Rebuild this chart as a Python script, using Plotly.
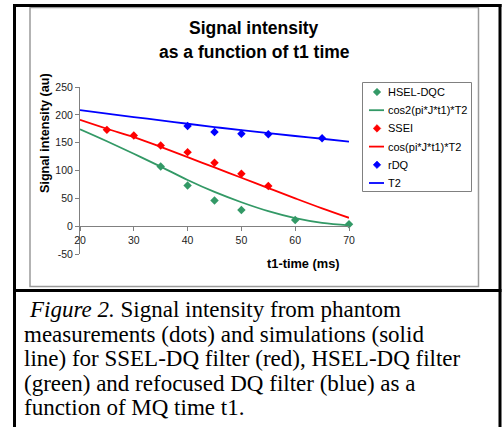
import plotly.graph_objects as go

# ---------------- data ----------------
t_meas_hsel = [35, 40, 45, 50, 60, 70]
hsel_meas = [107, 73, 46, 29, 11, 3.5]

t_meas_ssel = [25, 30, 35, 40, 45, 50, 55]
ssel_meas = [173, 163, 145, 133, 114, 94, 72]

t_meas_rdq = [40, 45, 50, 55, 65]
rdq_meas = [180, 169, 166, 165, 158]

t_sim = [20, 25, 30, 35, 40, 45, 50, 55, 60, 65, 70]
cos2_sim = [174, 152.5, 130, 107, 83, 61.5, 43, 27, 14.5, 6, 1.5]
cos_sim = [191, 175, 160, 142.5, 124, 105.5, 87, 68.5, 50, 32, 15]
t2_sim = [208.5, 202, 196, 190, 184, 178, 172.5, 167, 162, 157, 152]

x_ticks = [20, 30, 40, 50, 60, 70]
y_ticks = [-50, 0, 50, 100, 150, 200, 250]

series_names = ["HSEL-DQC", "cos2(pi*J*t1)*T2", "SSEI", "cos(pi*J*t1)*T2", "rDQ", "T2"]

# ---------------- layout geometry (pixels) ----------------
W, H = 503, 427
L, R, T, B = 80, 154, 87, 173
PW, PH = W - L - R, H - T - B


def px(x):
    return (x - L) / PW


def py(y):
    return (H - B - y) / PH


GREEN = "#339966"
RED = "#FF0000"
BLUE = "#0000FF"
SANS = "Liberation Sans, Arial, sans-serif"
SERIF = "Liberation Serif, Times New Roman, serif"
MSIZE = 6.5

fig = go.Figure()

fig.add_trace(go.Scatter(x=t_meas_hsel, y=hsel_meas, mode="markers", name=series_names[0],
                         marker=dict(symbol="diamond", size=MSIZE, color=GREEN), cliponaxis=False))
fig.add_trace(go.Scatter(x=t_sim, y=cos2_sim, mode="lines", name=series_names[1],
                         line=dict(color=GREEN, width=1.8, shape="spline")))
fig.add_trace(go.Scatter(x=t_meas_ssel, y=ssel_meas, mode="markers", name=series_names[2],
                         marker=dict(symbol="diamond", size=MSIZE, color=RED), cliponaxis=False))
fig.add_trace(go.Scatter(x=t_sim, y=cos_sim, mode="lines", name=series_names[3],
                         line=dict(color=RED, width=1.8, shape="spline")))
fig.add_trace(go.Scatter(x=t_meas_rdq, y=rdq_meas, mode="markers", name=series_names[4],
                         marker=dict(symbol="diamond", size=MSIZE, color=BLUE), cliponaxis=False))
fig.add_trace(go.Scatter(x=t_sim, y=t2_sim, mode="lines", name=series_names[5],
                         line=dict(color=BLUE, width=1.8, shape="spline")))

shapes = [
    # grey chart frame
    dict(type="rect", xref="paper", yref="paper", x0=px(30), x1=px(478.5), y0=py(286.5), y1=py(7.5),
         line=dict(color="#9a9a9a", width=1.5), layer="below"),
    # black outer frame
    dict(type="line", xref="paper", yref="paper", x0=px(13), x1=px(501.5), y0=py(5.5), y1=py(5.5),
         line=dict(color="black", width=3)),
    dict(type="line", xref="paper", yref="paper", x0=px(14.5), x1=px(14.5), y0=py(4), y1=py(430),
         line=dict(color="black", width=3)),
    dict(type="line", xref="paper", yref="paper", x0=px(500), x1=px(500), y0=py(4), y1=py(430),
         line=dict(color="black", width=3)),
    dict(type="line", xref="paper", yref="paper", x0=px(13), x1=px(501.5), y0=py(290.5), y1=py(290.5),
         line=dict(color="black", width=3)),
    # legend box
    dict(type="rect", xref="paper", yref="paper", x0=px(362.5), x1=px(471.5), y0=py(191.5), y1=py(82.5),
         line=dict(color="#808080", width=1), fillcolor="white"),
]

annotations = [
    dict(text="<b>Signal intensity</b>", x=px(254), y=py(28), xref="paper", yref="paper",
         showarrow=False, xanchor="center", yanchor="middle", font=dict(family=SANS, size=17.5, color="black")),
    dict(text="<b>as a function of t1 time</b>", x=px(254), y=py(52), xref="paper", yref="paper",
         showarrow=False, xanchor="center", yanchor="middle", font=dict(family=SANS, size=17.5, color="black")),
    dict(text="<b>t1-time (ms)</b>", x=px(303.5), y=py(263), xref="paper", yref="paper",
         showarrow=False, xanchor="center", yanchor="middle", font=dict(family=SANS, size=12.8, color="black")),
    dict(text="<b>Signal intensity (au)</b>", x=px(45), y=py(133), xref="paper", yref="paper",
         showarrow=False, xanchor="center", yanchor="middle", textangle=-90,
         font=dict(family=SANS, size=12.6, color="black")),
]

# custom legend (keys + labels)
colors = [GREEN, GREEN, RED, RED, BLUE, BLUE]
for i, (nm, col) in enumerate(zip(series_names, colors)):
    yy = 92 + i * 18.2
    if i % 2 == 0:
        d = 3.8
        cx = 377
        path = f"M {px(cx)} {py(yy - d)} L {px(cx + d)} {py(yy)} L {px(cx)} {py(yy + d)} L {px(cx - d)} {py(yy)} Z"
        shapes.append(dict(type="path", xref="paper", yref="paper", path=path,
                           fillcolor=col, line=dict(color=col, width=0.5)))
    else:
        shapes.append(dict(type="line", xref="paper", yref="paper", x0=px(369), x1=px(384),
                           y0=py(yy), y1=py(yy), line=dict(color=col, width=1.8)))
    annotations.append(dict(text=nm, x=px(385.5), y=py(yy), xref="paper", yref="paper",
                            showarrow=False, xanchor="left", yanchor="middle",
                            font=dict(family=SANS, size=11, color="black")))

caption = [
    (27, 309, "<i>Figure 2.</i> Signal intensity from phantom"),
    (22, 334, "measurements (dots) and simulations (solid"),
    (22, 358, "line) for SSEL-DQ filter (red), HSEL-DQ filter"),
    (22, 383, "(green) and refocused DQ filter (blue) as a"),
    (22, 407, "function of MQ time t1."),
]
for cx, cy, txt in caption:
    annotations.append(dict(text=txt, x=px(cx), y=py(cy), xref="paper", yref="paper",
                            showarrow=False, xanchor="left", yanchor="middle",
                            font=dict(family=SERIF, size=23, color="black")))

fig.update_layout(
    width=W, height=H,
    margin=dict(l=L, r=R, t=T, b=B, pad=0),
    paper_bgcolor="white", plot_bgcolor="white",
    showlegend=False,
    shapes=shapes,
    annotations=annotations,
    xaxis=dict(range=[20, 70], tickvals=x_ticks, ticktext=[str(v) for v in x_ticks],
               showgrid=False, zeroline=False, showline=True, linecolor="#808080", linewidth=1,
               ticks="outside", ticklen=4, tickcolor="#808080",
               anchor="free", position=(0 - y_ticks[0]) / (y_ticks[-1] - y_ticks[0]),
               tickfont=dict(family=SANS, size=10.5, color="#222")),
    yaxis=dict(range=[-50, 250], tickvals=y_ticks, ticktext=[str(v) for v in y_ticks],
               showgrid=False, zeroline=False, showline=True, linecolor="#808080", linewidth=1,
               ticks="outside", ticklen=4, tickcolor="#808080",
               tickfont=dict(family=SANS, size=10.5, color="#222")),
)

fig.write_html("out.html", config={"displayModeBar": False},
               post_script="document.body.style.margin='0';document.body.style.overflow='hidden';")
